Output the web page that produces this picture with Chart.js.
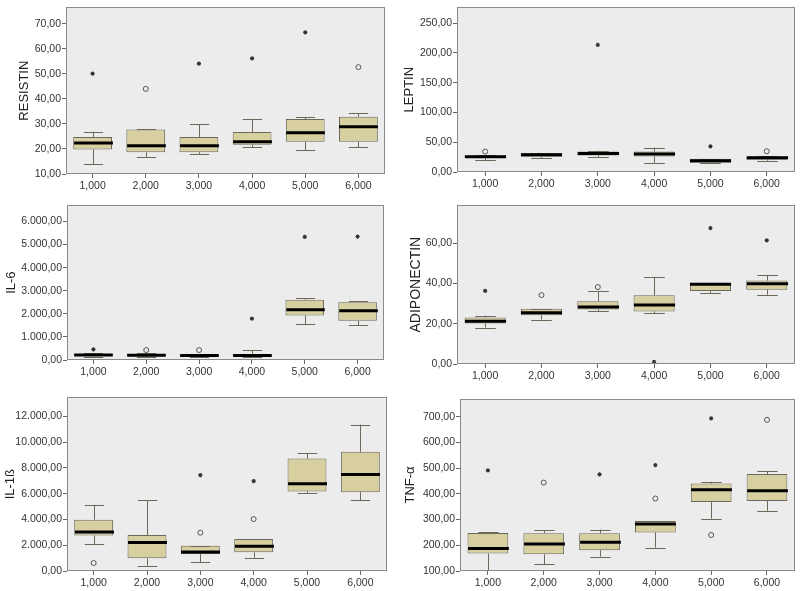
<!DOCTYPE html>
<html><head><meta charset="utf-8">
<script src="https://cdn.jsdelivr.net/npm/chart.js@4.4.1/dist/chart.umd.min.js"></script>
<style>
html,body{margin:0;padding:0;background:#fff;width:800px;height:591px;overflow:hidden}
canvas{position:absolute}
</style></head><body>
<canvas id="c1" width="395" height="198" style="left:0;top:0"></canvas>
<canvas id="c2" width="400" height="198" style="left:400px;top:0"></canvas>
<canvas id="c3" width="395" height="192" style="left:0;top:198px"></canvas>
<canvas id="c4" width="400" height="192" style="left:400px;top:198px"></canvas>
<canvas id="c5" width="395" height="201" style="left:0;top:390px"></canvas>
<canvas id="c6" width="400" height="201" style="left:400px;top:390px"></canvas>
<script>
const categories = ['1,000','2,000','3,000','4,000','5,000','6,000'];

// RESISTIN
const resistinMin    = [13.8, 16.8, 17.8, 20.7, 19.5, 20.7];
const resistinQ1     = [19.8, 18.7, 18.7, 21.7, 22.9, 22.9];
const resistinMedian = [22.4, 21.3, 21.3, 22.9, 26.5, 28.9];
const resistinQ3     = [24.8, 27.8, 24.8, 26.8, 32.0, 32.9];
const resistinMax    = [26.9, 27.8, 29.8, 32.0, 32.6, 34.3];
const resistinCircles= [null, 44.0, null, null, null, 52.7];
const resistinStars  = [50.1, null, 54.1, 56.2, 66.6, null];
const resistinTickValues = [10, 20, 30, 40, 50, 60, 70];

// LEPTIN
const leptinMin    = [20.1, 23.4, 25.0, 15.7, 14.7, 19.0];
const leptinQ1     = [23.4, 25.5, 27.8, 26.1, 15.7, 20.6];
const leptinMedian = [25.5, 28.8, 31.0, 30.4, 19.0, 23.9];
const leptinQ3     = [27.8, 31.5, 34.3, 34.3, 22.2, 26.1];
const leptinMax    = [27.8, 31.5, 35.9, 40.8, 22.2, 26.1];
const leptinCircles= [34.3, null, null, null, null, 34.8];
const leptinStars  = [null, null, 213.4, null, 43.0, null];
const leptinTickValues = [0, 50, 100, 150, 200, 250];

// IL-6
const il6Min    = [150, 140, 110, 120, 1554, 1513];
const il6Q1     = [170, 160, 139, 150, 1929, 1696];
const il6Median = [215, 210, 190, 200, 2179, 2138];
const il6Q3     = [262, 260, 240, 262, 2611, 2500];
const il6Max    = [290, 319, 260, 417, 2667, 2554];
const il6Circles= [null, 431, 431, null, null, null];
const il6Stars  = [458, null, null, 1792, 5333, 5346];
const il6TickValues = [0, 1000, 2000, 3000, 4000, 5000, 6000];

// ADIPONECTIN
const adipoMin    = [18.1, 22.0, 26.1, 25.1, 35.3, 34.4];
const adipoQ1     = [20.1, 24.2, 27.1, 26.1, 36.3, 36.9];
const adipoMedian = [21.2, 25.5, 28.3, 29.3, 39.6, 39.9];
const adipoQ3     = [23.1, 27.4, 31.2, 34.1, 40.3, 41.4];
const adipoMax    = [24.0, 27.4, 36.3, 43.3, 40.3, 44.2];
const adipoCircles= [null, 34.2, 38.2, null, null, null];
const adipoStars  = [36.3, null, null, 1.0, 67.5, 61.4];
const adipoTickValues = [0, 20, 40, 60];

// IL-1ß
const il1bMin    = [2065, 413, 671, 1032, 6039, 5497];
const il1bQ1     = [2762, 981, 1316, 1446, 6167, 6116];
const il1bMedian = [3019, 2219, 1471, 1910, 6761, 7484];
const il1bQ3     = [3972, 2787, 1962, 2477, 8722, 9239];
const il1bMax    = [5133, 5497, 1962, 2477, 9161, 11357];
const il1bCircles= [619, null, 2968, 4026, null, null];
const il1bStars  = [null, null, 7432, 6968, null, null];
const il1bTickValues = [0, 2000, 4000, 6000, 8000, 10000, 12000];

// TNF-α
const tnfMin    = [100, 127, 156, 191, 304, 334];
const tnfQ1     = [168, 165, 181, 250, 368, 372];
const tnfMedian = [188, 205, 212, 283, 416, 412];
const tnfQ3     = [248, 247, 247, 294, 440, 477];
const tnfMax    = [251, 259, 261, 294, 447, 488];
const tnfCircles= [null, 444, null, 382, 240, 688];
const tnfStars  = [491, null, 476, 512, 694, null];
const tnfTickValues = [100, 200, 300, 400, 500, 600, 700];

// y-axis ranges
const resistinRange = [10, 76.6];
const leptinRange   = [0, 276.6];
const il6Range      = [0, 6700];
const adipoRange    = [0, 78.8];
const il1bRange     = [0, 13470];
const tnfRange      = [100, 769];

const FONT = "'Liberation Sans', Arial, sans-serif";
const BOX_FILL = '#d7cf9f';
const BOX_LINE = '#6a6858';

function fmt(v) {
  const neg = v < 0; v = Math.abs(v);
  let s = v.toFixed(2);
  let [ip, dp] = s.split('.');
  ip = ip.replace(/\B(?=(\d{3})+(?!\d))/g, '.');
  return (neg ? '-' : '') + ip + ',' + dp;
}

function boxPlugin(s) {
  return {
    id: 'boxExtras',
    beforeDraw(chart) {
      const a = chart.chartArea, ctx = chart.ctx;
      ctx.save();
      ctx.fillStyle = '#ececec';
      ctx.fillRect(a.left, a.top, a.right - a.left, a.bottom - a.top);
      ctx.restore();
    },
    afterDatasetsDraw(chart) {
      const ctx = chart.ctx, y = chart.scales.y, a = chart.chartArea;
      const meta = chart.getDatasetMeta(0);
      ctx.save();
      ctx.beginPath();
      ctx.rect(a.left, a.top, a.right - a.left, a.bottom - a.top);
      ctx.clip();
      meta.data.forEach((bar, i) => {
        const x = Math.round(bar.x) + 0.5, w = bar.width;
        const pMax = y.getPixelForValue(s.max[i]);
        const pMin = y.getPixelForValue(s.min[i]);
        const pQ1 = y.getPixelForValue(s.q1[i]);
        const pQ3 = y.getPixelForValue(s.q3[i]);
        const pMed = y.getPixelForValue(s.med[i]);
        ctx.strokeStyle = BOX_LINE;
        ctx.lineWidth = 1;
        ctx.beginPath();
        ctx.moveTo(x, pQ3); ctx.lineTo(x, pMax);
        ctx.moveTo(x, pQ1); ctx.lineTo(x, pMin);
        ctx.moveTo(x - w * 0.25, Math.round(pMax) + 0.5); ctx.lineTo(x + w * 0.25, Math.round(pMax) + 0.5);
        ctx.moveTo(x - w * 0.25, Math.round(pMin) + 0.5); ctx.lineTo(x + w * 0.25, Math.round(pMin) + 0.5);
        ctx.stroke();
        ctx.strokeStyle = '#000';
        ctx.lineWidth = 3;
        ctx.beginPath();
        ctx.moveTo(x - w / 2, pMed); ctx.lineTo(x + w / 2, pMed);
        ctx.stroke();
      });
      ctx.restore();
    },
    afterDraw(chart) {
      const a = chart.chartArea, ctx = chart.ctx;
      ctx.save();
      ctx.strokeStyle = '#8a8a8a';
      ctx.lineWidth = 1;
      ctx.strokeRect(Math.round(a.left) + 0.5, Math.round(a.top) + 0.5,
                     Math.round(a.right - a.left) - 1, Math.round(a.bottom - a.top) - 1);
      ctx.restore();
    }
  };
}

function makeChart(id, s) {
  new Chart(document.getElementById(id), {
    data: {
      labels: categories,
      datasets: [
        {
          type: 'bar',
          data: s.q1.map((v, i) => [v, s.q3[i]]),
          backgroundColor: BOX_FILL,
          borderColor: BOX_LINE,
          borderWidth: 1,
          borderSkipped: false,
          barPercentage: 0.73,
          categoryPercentage: 1,
          order: 3
        },
        {
          type: 'line',
          data: s.circles,
          showLine: false,
          pointStyle: 'circle',
          pointRadius: 2.5,
          pointBackgroundColor: 'rgba(0,0,0,0)',
          pointBorderColor: '#555',
          pointBorderWidth: 1,
          order: 1
        },
        {
          type: 'line',
          data: s.stars,
          showLine: false,
          pointStyle: 'star',
          pointRadius: 2.1,
          pointBorderColor: '#333',
          pointBackgroundColor: '#333',
          pointBorderWidth: 1.1,
          order: 1
        }
      ]
    },
    options: {
      responsive: false,
      animation: false,
      events: [],
      layout: { padding: s.pad },
      plugins: { legend: { display: false }, tooltip: { enabled: false } },
      scales: {
        x: {
          type: 'category',
          offset: true,
          grid: { offset: false, drawOnChartArea: false, drawTicks: true, tickLength: 4, color: '#666' },
          border: { display: false },
          ticks: { font: { family: FONT, size: 10.5 }, color: '#333', padding: 2, maxRotation: 0, autoSkip: false },
          afterFit: sc => { sc.height = s.xh; }
        },
        y: {
          type: 'linear',
          min: s.range[0],
          max: s.range[1],
          grid: { drawOnChartArea: false, drawTicks: true, tickLength: 4, color: '#666' },
          border: { display: false },
          ticks: { font: { family: FONT, size: 10.5 }, color: '#333', padding: 1, callback: v => fmt(v) },
          afterBuildTicks: sc => { sc.ticks = s.tickValues.map(v => ({ value: v })); },
          title: { display: true, text: s.title, color: '#222', font: { family: FONT, size: s.tsize }, padding: { top: s.tpad, bottom: 0 } },
          afterFit: sc => { sc.width = s.yw; }
        }
      }
    },
    plugins: [boxPlugin(s)]
  });
}

makeChart('c1', { title: 'RESISTIN', min: resistinMin, q1: resistinQ1, med: resistinMedian, q3: resistinQ3, max: resistinMax,
  circles: resistinCircles, stars: resistinStars, range: resistinRange, tickValues: resistinTickValues,
  pad: { top: 3, right: 10, bottom: 0, left: 0 }, yw: 66, xh: 24, tsize: 13, tpad: 17 });
makeChart('c2', { title: 'LEPTIN', min: leptinMin, q1: leptinQ1, med: leptinMedian, q3: leptinQ3, max: leptinMax,
  circles: leptinCircles, stars: leptinStars, range: leptinRange, tickValues: leptinTickValues,
  pad: { top: 3, right: 4, bottom: 0, left: 0 }, yw: 57, xh: 26, tsize: 13, tpad: 2 });
makeChart('c3', { title: 'IL-6', min: il6Min, q1: il6Q1, med: il6Median, q3: il6Q3, max: il6Max,
  circles: il6Circles, stars: il6Stars, range: il6Range, tickValues: il6TickValues,
  pad: { top: 1, right: 11, bottom: 0, left: 0 }, yw: 67, xh: 30, tsize: 13, tpad: 4 });
makeChart('c4', { title: 'ADIPONECTIN', min: adipoMin, q1: adipoQ1, med: adipoMedian, q3: adipoQ3, max: adipoMax,
  circles: adipoCircles, stars: adipoStars, range: adipoRange, tickValues: adipoTickValues,
  pad: { top: 1, right: 4, bottom: 0, left: 0 }, yw: 57, xh: 26, tsize: 14, tpad: 8 });
makeChart('c5', { title: 'IL-1ß', min: il1bMin, q1: il1bQ1, med: il1bMedian, q3: il1bQ3, max: il1bMax,
  circles: il1bCircles, stars: il1bStars, range: il1bRange, tickValues: il1bTickValues,
  pad: { top: 7, right: 8, bottom: 0, left: 0 }, yw: 67, xh: 20, tsize: 13, tpad: 3 });
makeChart('c6', { title: 'TNF-α', min: tnfMin, q1: tnfQ1, med: tnfMedian, q3: tnfQ3, max: tnfMax,
  circles: tnfCircles, stars: tnfStars, range: tnfRange, tickValues: tnfTickValues,
  pad: { top: 9, right: 3, bottom: 0, left: 0 }, yw: 60, xh: 20, tsize: 13, tpad: 3 });
</script>
</body></html>
